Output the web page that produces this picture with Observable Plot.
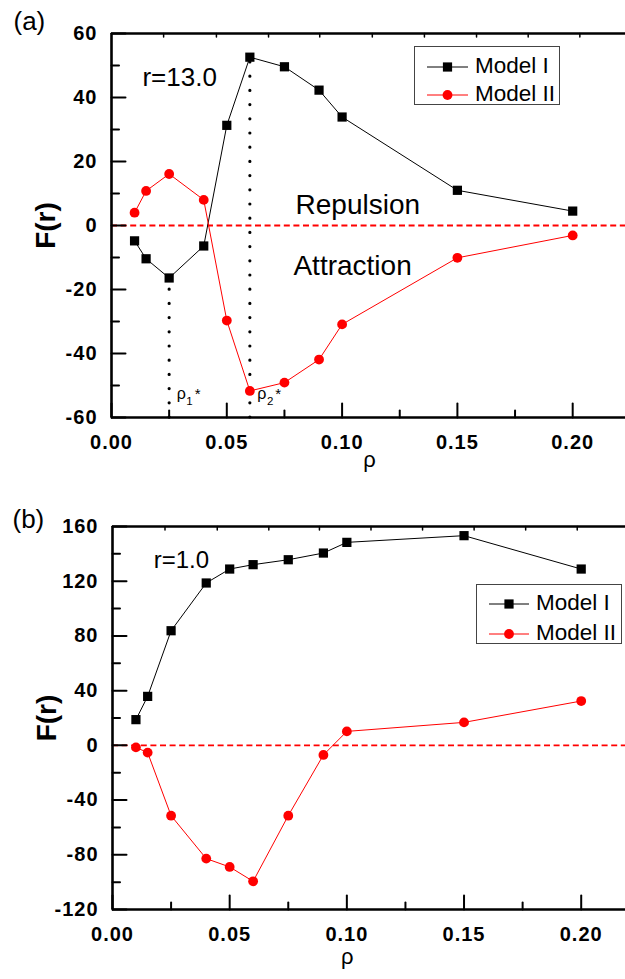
<!DOCTYPE html>
<html>
<head>
<meta charset="utf-8">
<script src="https://cdn.jsdelivr.net/npm/d3@7"></script>
<script src="https://cdn.jsdelivr.net/npm/@observablehq/plot@0.6"></script>
<style>
  html, body { margin: 0; padding: 0; background: #fff; }
  body { font-family: "Liberation Sans", Arial, sans-serif; }
  #chart { position: relative; width: 625px; height: 979px; overflow: hidden; }
  .panel { position: relative; width: 625px; }
  .panel svg { display: block; }
  .legend { position: absolute; box-sizing: border-box; border: 1px solid #444; background: #fff; }
  .legend .item { position: absolute; left: 0; height: 28px; }
  .legend .name { position: absolute; font-size: 22.5px; line-height: 28px; white-space: nowrap; color: #000;
    font-family: "Liberation Sans", Arial, sans-serif; }
</style>
</head>
<body>
<div id="chart"></div>
<script>
// Density values rho shared by both panels
const rho = [0.01, 0.015, 0.025, 0.04, 0.05, 0.06, 0.075, 0.09, 0.10, 0.15, 0.20];

// Panel (a): r = 13.0
const modelIA  = [-4.8, -10.4, -16.4, -6.4, 31.3, 52.6, 49.6, 42.3, 33.9, 11.0, 4.5];
const modelIIA = [4.0, 10.8, 16.1, 8.0, -29.7, -51.7, -49.1, -41.9, -30.9, -10.1, -3.1];

// Panel (b): r = 1.0
const modelIB  = [18.8, 35.8, 83.8, 118.7, 128.9, 132.1, 135.7, 140.6, 148.4, 153.3, 128.9];
const modelIIB = [-1.5, -5.3, -51.4, -82.8, -88.9, -99.4, -51.4, -7.0, 10.2, 16.8, 32.4];

// Series names and critical densities rho1*, rho2*
const seriesNames = ["Model I", "Model II"];
const criticalRho = [0.025, 0.06];
const criticalIndex = ["1", "2"];

// Tick values
const xMajorTicks = [0, 0.05, 0.10, 0.15, 0.20];
const xMinorTicks = [0.025, 0.075, 0.125, 0.175];
const yMajorTicksA = [-60, -40, -20, 0, 20, 40, 60];
const yMinorTicksA = [-50, -30, -10, 10, 30, 50];
const yMajorTicksB = [-120, -80, -40, 0, 40, 80, 120, 160];
const yMinorTicksB = [-100, -60, -20, 20, 60, 100, 140];
const topTicksA = [0.0226, 0.0455, 0.0681, 0.0903, 0.1131, 0.1357, 0.1583, 0.1807, 0.2031];
const topTicksB = [0.0224, 0.0447, 0.0667, 0.0883, 0.1103, 0.1323, 0.1543, 0.1763, 0.1983];

// Text labels
const panelTags = ["(a)", "(b)"];
const notesA = ["r=13.0", "Repulsion", "Attraction"];
const notesB = ["r=1.0"];

const BLACK = "#000000";
const RED = "#ff0000";
const FONT = "'Liberation Sans', Arial, Helvetica, sans-serif";
const WIDTH = 625;

function drawPanel(cfg) {
  const s1 = rho.map((x, i) => ({x, y: cfg.modelI[i]}));
  const s2 = rho.map((x, i) => ({x, y: cfg.modelII[i]}));
  const crit = cfg.critical
    ? criticalRho.map((x, i) => ({x, y: cfg.modelI[rho.indexOf(x)], sub: criticalIndex[i]}))
    : [];
  const [x0, x1] = cfg.xDomain;
  const [y0, y1] = cfg.yDomain;
  const innerW = WIDTH - cfg.marginLeft;
  const innerH = cfg.height - cfg.marginTop - cfg.marginBottom;
  // data units per pixel, so tick lengths can be given in pixels
  const xPerPx = (x1 - x0) / innerW;
  const yPerPx = (y1 - y0) / innerH;

  // inward ticks: two-point segments drawn with the line mark, one segment per tick
  const seg = (values, a, b) => values.flatMap(v => [a(v), b(v)]);
  const tickLeft = (values, size) => Plot.line(
    seg(values, v => ({x: x0, y: v, k: v}), v => ({x: x0 + size * xPerPx, y: v, k: v})),
    {x: "x", y: "y", z: "k", stroke: BLACK, strokeWidth: 2});
  const tickBottom = (values, size) => Plot.line(
    seg(values, v => ({x: v, y: y0, k: v}), v => ({x: v, y: y0 + size * yPerPx, k: v})),
    {x: "x", y: "y", z: "k", stroke: BLACK, strokeWidth: 2});
  const tickTop = (values, size) => Plot.line(
    seg(values, v => ({x: v, y: y1, k: v}), v => ({x: v, y: y1 - size * yPerPx, k: v})),
    {x: "x", y: "y", z: "k", stroke: BLACK, strokeWidth: 1.5});

  const marks = [
    // zero reference
    Plot.ruleY([0], {stroke: RED, strokeWidth: 1.8, strokeDasharray: "6,3.6"}),
    // critical densities (dotted)
    Plot.ruleX(crit, {x: "x", y1: y0, y2: "y", stroke: BLACK, strokeWidth: 3.2,
      strokeDasharray: "0,14.2", strokeLinecap: "round"}),
    // series
    Plot.line(s1, {x: "x", y: "y", stroke: BLACK, strokeWidth: 1}),
    Plot.line(s2, {x: "x", y: "y", stroke: RED, strokeWidth: 1}),
    Plot.dot(s1, {x: "x", y: "y", symbol: "square", r: 5.2, fill: BLACK, stroke: null}),
    Plot.dot(s2, {x: "x", y: "y", symbol: "circle", r: 4.9, fill: RED, stroke: null}),
    // ticks
    tickLeft(cfg.yMajor, 14),
    tickLeft(cfg.yMinor, 7.5),
    tickBottom(xMajorTicks, 14),
    tickBottom(xMinorTicks, 7),
    tickTop(cfg.topTicks, 3.5),
    // tick labels
    Plot.text(cfg.yMajor, {frameAnchor: "left", y: d => d, text: d => String(d), dx: -14,
      textAnchor: "end", lineAnchor: "middle", fontSize: 20, fontWeight: "bold", fill: BLACK,
      className: "tick-label"}),
    Plot.text(xMajorTicks, {frameAnchor: "bottom", x: d => d, text: d => d.toFixed(2), dy: 17,
      textAnchor: "middle", lineAnchor: "top", fontSize: 20, fontWeight: "bold", fill: BLACK,
      className: "tick-label"}),
    // frame: left, bottom, top
    Plot.ruleX([x0], {strokeWidth: 2.6, stroke: BLACK}),
    Plot.ruleY([y0, y1], {strokeWidth: 2.6, stroke: BLACK}),
    // axis titles
    Plot.text(["F(r)"], {frameAnchor: "left", text: d => d, rotate: -90, dx: -65,
      fontSize: 28, fontWeight: "bold", textAnchor: "middle", lineAnchor: "middle", fill: BLACK}),
    Plot.text(["ρ"], {x: cfg.rhoLabelX, frameAnchor: "bottom", text: d => d, dy: cfg.rhoLabelDy,
      fontSize: 22, lineAnchor: "bottom", fill: BLACK}),
    // panel tag
    Plot.text([cfg.tag], {frameAnchor: "top-left", text: d => d, dx: cfg.tagDx, dy: cfg.tagDy,
      fontSize: 26, textAnchor: "start", lineAnchor: "bottom", fill: BLACK}),
    // annotations
    ...cfg.notes.map((t, i) => Plot.text([t], {x: cfg.noteX[i], y: cfg.noteY[i], text: d => d,
      fontSize: cfg.noteSize[i], textAnchor: "start", lineAnchor: "bottom", fill: BLACK})),
    Plot.text(crit, {x: "x", y: -54.2, text: d => d.sub, dx: 7.5, textAnchor: "start",
      lineAnchor: "bottom", fontSize: 16, fill: BLACK, className: "crit-label"})
  ];

  const svg = Plot.plot({
    width: WIDTH,
    height: cfg.height,
    marginTop: cfg.marginTop,
    marginBottom: cfg.marginBottom,
    marginLeft: cfg.marginLeft,
    marginRight: 0,
    x: {domain: cfg.xDomain, label: null, axis: null},
    y: {domain: cfg.yDomain, label: null, axis: null},
    style: {fontFamily: FONT, background: "#fff", overflow: "visible", color: BLACK},
    marks
  });

  d3.select(svg).selectAll(".tick-label text").style("letter-spacing", "1px");

  // rho_i* labels: subscript index and superscript star
  d3.select(svg).selectAll(".crit-label text").each(function () {
    const sub = this.textContent;
    const t = d3.select(this);
    t.text(null);
    t.append("tspan").text("ρ");
    t.append("tspan").attr("font-size", 11.5).attr("dx", 0.5).attr("dy", 6).text(sub);
    t.append("tspan").attr("font-size", 15).attr("dx", 2).attr("dy", -6).text("*");
  });

  const wrap = d3.create("div").attr("class", "panel");
  wrap.node().appendChild(svg);

  // legend box
  const lg = wrap.append("div").attr("class", "legend")
    .style("left", cfg.legend.left + "px").style("top", cfg.legend.top + "px")
    .style("width", cfg.legend.width + "px").style("height", cfg.legend.height + "px");
  const styles = [{color: BLACK, symbol: "square"}, {color: RED, symbol: "circle"}];
  seriesNames.forEach((name, i) => {
    const row = lg.append("div").attr("class", "item").style("top", (cfg.legend.rowY[i] - 14) + "px")
      .style("width", "100%");
    const sv = row.append("svg").attr("width", 60).attr("height", 28)
      .style("position", "absolute").style("left", "0px").style("top", "0px");
    sv.append("line").attr("x1", cfg.legend.lineX0).attr("x2", cfg.legend.lineX1)
      .attr("y1", 14).attr("y2", 14).attr("stroke", styles[i].color).attr("stroke-width", 1);
    const cx = (cfg.legend.lineX0 + cfg.legend.lineX1) / 2;
    if (styles[i].symbol === "square") {
      sv.append("rect").attr("x", cx - 4.6).attr("y", 14 - 4.6).attr("width", 9.2).attr("height", 9.2)
        .attr("fill", styles[i].color);
    } else {
      sv.append("circle").attr("cx", cx).attr("cy", 14).attr("r", 4.9).attr("fill", styles[i].color);
    }
    row.append("div").attr("class", "name").style("left", cfg.legend.textX + "px")
      .style("top", "-1px").text(name);
  });

  return wrap.node();
}

const chart = document.getElementById("chart");

chart.appendChild(drawPanel({
  tag: panelTags[0], tagDx: -98, tagDy: -3.5,
  modelI: modelIA, modelII: modelIIA, critical: true,
  xDomain: [0, 0.2229], yDomain: [-60, 60],
  yMajor: yMajorTicksA, yMinor: yMinorTicksA, topTicks: topTicksA,
  height: 490, marginTop: 33, marginBottom: 73, marginLeft: 111,
  rhoLabelX: 0.1119, rhoLabelDy: 49.4,
  notes: notesA, noteX: [0.0134, 0.0798, 0.0789], noteY: [43.5, 3.5, -15.5], noteSize: [26, 28, 28],
  legend: {left: 414, top: 46, width: 146, height: 59, rowY: [19.5, 47.5], lineX0: 12, lineX1: 53, textX: 60}
}));

chart.appendChild(drawPanel({
  tag: panelTags[1], tagDx: -100, tagDy: 1.5,
  modelI: modelIB, modelII: modelIIB, critical: false,
  xDomain: [0, 0.2189], yDomain: [-120, 160],
  yMajor: yMajorTicksB, yMinor: yMinorTicksB, topTicks: topTicksB,
  height: 489, marginTop: 36, marginBottom: 70, marginLeft: 112,
  rhoLabelX: 0.1002, rhoLabelDy: 54,
  notes: notesB, noteX: [0.0176], noteY: [129.9], noteSize: [24],
  legend: {left: 476, top: 94, width: 146, height: 60, rowY: [19, 48.5], lineX0: 12, lineX1: 52, textX: 59}
}));
</script>
</body>
</html>
